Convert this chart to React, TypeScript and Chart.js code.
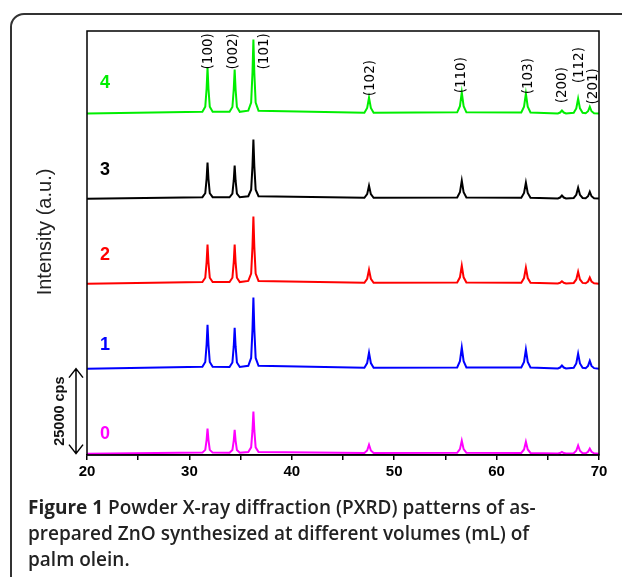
import React, { useEffect, useRef } from 'react';
import { Chart, registerables } from 'chart.js';
Chart.register(...registerables);

// 2θ sample positions (degrees)
const twoTheta = [
  20,
  31.27, 31.55, 31.68, 31.77, 31.86, 31.99, 32.27,
  33.92, 34.2, 34.33, 34.42, 34.51, 34.64, 34.92,
  35.75, 36.03, 36.16, 36.25, 36.34, 36.47, 36.75,
  47.09, 47.36, 47.54, 47.72, 47.99,
  56.15, 56.42, 56.6, 56.78, 57.05,
  62.41, 62.68, 62.86, 63.04, 63.31,
  65.98, 66.2, 66.38, 66.56, 66.78,
  67.53, 67.78, 67.96, 68.14, 68.4,
  68.7, 68.93, 69.1, 69.27, 69.52,
  70,
];

// intensities (cps) for each sample, before stacking offset
const pattern0 = [
  300,
  600, 1410, 4370, 7700, 4370, 1410, 600,
  580, 1350, 4150, 7300, 4150, 1350, 580,
  800, 2160, 7120, 12700, 7120, 2160, 800,
  460, 1210, 2900, 1210, 460,
  530, 1630, 4100, 1630, 530,
  510, 1530, 3800, 1530, 510,
  330, 470, 800, 470, 330,
  440, 1140, 2700, 1140, 440,
  390, 830, 1800, 830, 390,
  300,
];
const pattern1 = [
  300,
  820, 2240, 7400, 13200, 7400, 2240, 820,
  780, 2100, 6900, 12300, 6900, 2100, 780,
  1140, 3440, 11800, 21200, 11800, 3440, 1140,
  580, 1950, 5000, 1950, 580,
  670, 2470, 6500, 2470, 670,
  640, 2260, 5900, 2260, 640,
  350, 620, 1200, 620, 350,
  560, 1840, 4700, 1840, 560,
  440, 1100, 2600, 1100, 440,
  300,
];
const pattern2 = [
  300,
  760, 2030, 6630, 11800, 6630, 2030, 760,
  760, 2030, 6630, 11800, 6630, 2030, 760,
  1090, 3260, 11140, 20000, 11140, 3260, 1090,
  550, 1740, 4400, 1740, 550,
  620, 2160, 5600, 2160, 620,
  580, 1950, 5000, 1950, 580,
  340, 550, 1000, 550, 340,
  510, 1530, 3800, 1530, 510,
  410, 930, 2100, 930, 410,
  300,
];
const pattern3 = [
  300,
  720, 1890, 6130, 10900, 6130, 1890, 720,
  690, 1760, 5640, 10000, 5640, 1760, 690,
  1000, 2910, 9870, 17700, 9870, 2910, 1000,
  530, 1630, 4100, 1630, 530,
  620, 2160, 5600, 2160, 620,
  580, 1950, 5000, 1950, 580,
  350, 620, 1200, 620, 350,
  490, 1420, 3500, 1420, 490,
  420, 1000, 2300, 1000, 420,
  300,
];
const pattern4 = [
  300,
  840, 2300, 7700, 13800, 7700, 2300, 840,
  820, 2250, 7450, 13300, 7450, 2250, 820,
  1170, 3570, 12300, 22100, 12300, 3570, 1170,
  580, 1950, 5000, 1950, 580,
  670, 2470, 6500, 2470, 670,
  650, 2370, 6200, 2370, 650,
  350, 620, 1200, 620, 350,
  560, 1840, 4700, 1840, 560,
  420, 1000, 2300, 1000, 420,
  300,
];

const patterns = [pattern0, pattern1, pattern2, pattern3, pattern4];
const sampleNames = ['0', '1', '2', '3', '4'];
const stackOffsets = [0, 25000, 50000, 75000, 100000];
const sampleColors = ['#ff00ff', '#0000ff', '#ff0000', '#000000', '#00ee00'];
const sampleLabelX = 21.75;
const sampleLabelY = [6200, 32300, 58700, 83700, 109300];

const planeNames = ['(100)', '(002)', '(101)', '(102)', '(110)', '(103)', '(200)', '(112)', '(201)'];
const planeLabelX = [31.85, 34.26, 37.38, 47.73, 56.62, 63.07, 66.48, 68.05, 69.51];
const planeLabelY = [113300, 113300, 113300, 105400, 106260, 105970, 103320, 109200, 103000];

const scaleBarFrom = 300;
const scaleBarSize = 25000;
const scaleBarText = '25000 cps';

const xMin = 20;
const xMax = 70;
const yMin = -100;
const yMax = 124600;

const CANVAS_W = 622;
const CANVAS_H = 495;

const decorPlugin = {
  id: 'decor',
  afterDatasetsDraw(chart: any) {
    const { ctx, chartArea: a, scales } = chart;
    const xs = scales.x;
    const ys = scales.y;
    ctx.save();
    // frame
    ctx.strokeStyle = '#000';
    ctx.lineWidth = 1.5;
    ctx.strokeRect(a.left, a.top, a.right - a.left, a.bottom - a.top);

    // sample labels
    ctx.font = 'bold 18px "Liberation Sans", Arial, sans-serif';
    ctx.textAlign = 'center';
    ctx.textBaseline = 'middle';
    sampleNames.forEach((n, i) => {
      ctx.fillStyle = sampleColors[i];
      ctx.fillText(n, xs.getPixelForValue(sampleLabelX), ys.getPixelForValue(sampleLabelY[i]));
    });

    // plane labels
    ctx.fillStyle = '#000';
    ctx.font = '13.5px "DejaVu Sans", Verdana, sans-serif';
    ctx.textAlign = 'left';
    ctx.textBaseline = 'middle';
    planeNames.forEach((p, i) => {
      ctx.save();
      ctx.translate(xs.getPixelForValue(planeLabelX[i]), ys.getPixelForValue(planeLabelY[i]));
      ctx.rotate(-Math.PI / 2);
      ctx.fillText(p, 0, 0);
      ctx.restore();
    });

    // y title
    ctx.save();
    ctx.translate(45, 232);
    ctx.rotate(-Math.PI / 2);
    ctx.font = '20px "Liberation Sans", Arial, sans-serif';
    ctx.fillStyle = '#222';
    ctx.textAlign = 'center';
    ctx.textBaseline = 'middle';
    ctx.fillText('Intensity (a.u.)', 0, 0);
    ctx.restore();

    // scale bar
    const yb = ys.getPixelForValue(scaleBarFrom);
    const yt = ys.getPixelForValue(scaleBarFrom + scaleBarSize);
    const ax = 76;
    ctx.strokeStyle = '#000';
    ctx.lineWidth = 1.5;
    ctx.beginPath();
    ctx.moveTo(ax, yt);
    ctx.lineTo(ax, yb);
    ctx.moveTo(ax - 7, yt + 9);
    ctx.lineTo(ax, yt);
    ctx.lineTo(ax + 7, yt + 9);
    ctx.moveTo(ax - 7, yb - 9);
    ctx.lineTo(ax, yb);
    ctx.lineTo(ax + 7, yb - 9);
    ctx.stroke();
    ctx.save();
    ctx.translate(60, (yt + yb) / 2);
    ctx.rotate(-Math.PI / 2);
    ctx.font = 'bold 14.5px "Liberation Sans", Arial, sans-serif';
    ctx.fillStyle = '#111';
    ctx.textAlign = 'center';
    ctx.textBaseline = 'middle';
    ctx.fillText(scaleBarText, 0, 0);
    ctx.restore();

    ctx.restore();
  },
};

export default function App() {
  const ref = useRef<HTMLCanvasElement | null>(null);
  useEffect(() => {
    if (!ref.current) return;
    const datasets = patterns.map((pat, i) => ({
      label: sampleNames[i],
      data: pat.map((v, j) => ({ x: twoTheta[j], y: v + stackOffsets[i] })),
      borderColor: sampleColors[i],
      backgroundColor: sampleColors[i],
      borderWidth: 2,
      pointRadius: 0,
      tension: 0,
      fill: false,
    }));
    const chart = new Chart(ref.current, {
      type: 'line',
      data: { datasets },
      options: {
        animation: false,
        responsive: false,
        devicePixelRatio: 1,
        layout: { padding: { left: 87, right: 23, top: 31, bottom: 0 } },
        plugins: { legend: { display: false }, tooltip: { enabled: false } },
        scales: {
          x: {
            type: 'linear',
            min: xMin,
            max: xMax,
            border: { color: '#000', width: 1.5 },
            grid: { drawOnChartArea: false, drawTicks: true, tickLength: 5, color: '#000', lineWidth: 1.5 },
            ticks: {
              stepSize: 5,
              autoSkip: false,
              maxRotation: 0,
              padding: 3,
              color: '#000',
              font: { family: '"Liberation Sans", Arial, sans-serif', weight: 'bold', size: 15 },
              callback: (v: any) => (Number(v) % 10 === 0 ? String(v) : ''),
            },
            afterFit: (s: any) => {
              s.height = CANVAS_H - 455;
            },
          },
          y: { type: 'linear', display: false, min: yMin, max: yMax },
        },
      },
      plugins: [decorPlugin],
    } as any);
    return () => chart.destroy();
  }, []);

  return (
    <div style={{ position: 'absolute', left: 0, top: 0, width: 622, height: 577, overflow: 'hidden', background: '#fff' }}>
      <div
        style={{
          position: 'absolute',
          left: 10,
          top: 13,
          width: 660,
          height: 620,
          border: '2px solid #333',
          borderRadius: 14,
          boxSizing: 'border-box',
        }}
      />
      <canvas ref={ref} width={CANVAS_W} height={CANVAS_H} style={{ position: 'absolute', left: 0, top: 0, width: CANVAS_W, height: CANVAS_H }} />
      <div
        style={{
          position: 'absolute',
          left: 28,
          top: 494,
          whiteSpace: 'nowrap',
          fontFamily: '"Open Sans", sans-serif',
          fontSize: 19,
          lineHeight: '26px',
          fontWeight: 600,
          color: '#222',
        }}
      >
        <span style={{ fontWeight: 700 }}>Figure 1</span> Powder X-ray diffraction (PXRD) patterns of as-
        <br />
        prepared ZnO synthesized at different volumes (mL) of
        <br />
        palm olein.
      </div>
    </div>
  );
}
